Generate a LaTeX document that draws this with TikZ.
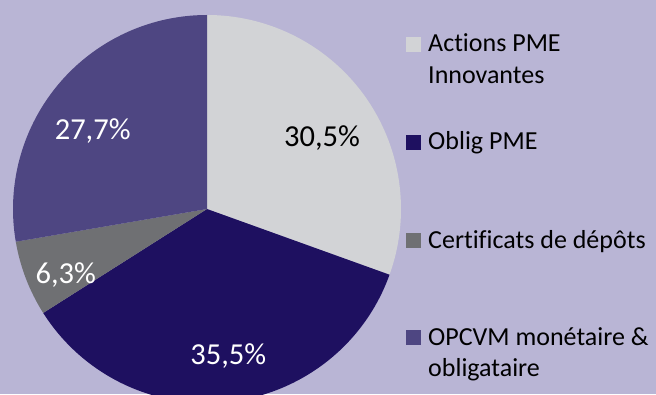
\documentclass[tikz,border=0pt]{standalone}
\usepackage{fontspec}
\setmainfont{Carlito}[Ligatures=NoCommon]
\definecolor{bgc}{RGB}{185,181,213}
\definecolor{slA}{RGB}{210,211,214}
\definecolor{slB}{RGB}{30,16,96}
\definecolor{slC}{RGB}{111,112,115}
\definecolor{slD}{RGB}{78,70,130}
\begin{document}
\begin{tikzpicture}[x=1pt,y=1pt,
  pctlabel/.style={anchor=base,inner sep=0pt,font=\fontsize{30.5}{36}\selectfont},
  legtext/.style={anchor=base west,inner sep=0pt,text=black,font=\fontsize{26}{32}\selectfont},
  legbox/.style={anchor=south west,inner sep=0pt,minimum size=15pt,draw=none}]
\useasboundingbox (0,0) rectangle (656,394);
\clip (0,0) rectangle (656,394);
\fill[bgc] (0,0) rectangle (656,394);
\coordinate (c) at (207,185);
\def\R{194}
\fill[slA] (c) -- ++(90:\R) arc[start angle=90,end angle=-19.8,radius=\R] -- cycle;
\fill[slB] (c) -- ++(-19.8:\R) arc[start angle=-19.8,end angle=-147.6,radius=\R] -- cycle;
\fill[slC] (c) -- ++(-147.6:\R) arc[start angle=-147.6,end angle=-170.28,radius=\R] -- cycle;
\fill[slD] (c) -- ++(-170.28:\R) arc[start angle=-170.28,end angle=-270,radius=\R] -- cycle;
\node[pctlabel,text=black] (lA) at (322,247.3) {30,5\%};
\node[pctlabel,text=white] (lB) at (228.3,30) {35,5\%};
\node[pctlabel,text=white] (lC) at (65.8,110.7) {6,3\%};
\node[pctlabel,text=white] (lD) at (92.7,254) {27,7\%};
\node[legbox,fill=slA] (bA) at (406,342) {};
\node[legtext] (tA1) at (428,342) {Actions PME};
\node[legtext] (tA2) at (428,310) {Innovantes};
\node[legbox,fill=slB] (bB) at (406,244) {};
\node[legtext] (tB) at (428,244) {Oblig PME};
\node[legbox,fill=slC] (bC) at (406,146) {};
\node[legtext] (tC) at (428,146) {Certificats de dépôts};
\node[legbox,fill=slD] (bD) at (406,49) {};
\node[legtext] (tD1) at (428,49) {OPCVM monétaire \&};
\node[legtext] (tD2) at (428,18) {obligataire};
\end{tikzpicture}
\end{document}
